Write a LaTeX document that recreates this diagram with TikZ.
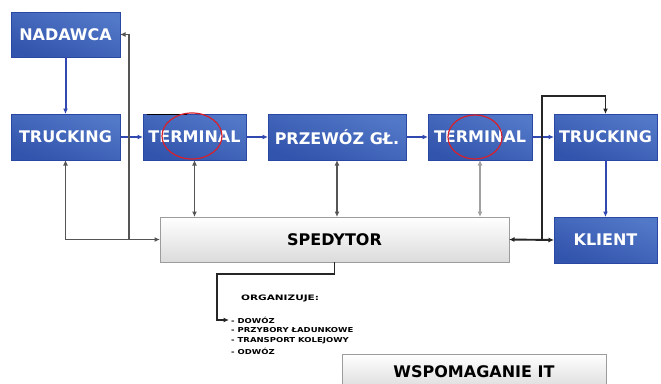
\documentclass[tikz,border=0pt]{standalone}
\usepackage{fontspec}
\setmainfont{DejaVu Sans}
\usetikzlibrary{arrows.meta}
\definecolor{boxblueL}{HTML}{5278C8}
\definecolor{boxblueD}{HTML}{3254AC}
\definecolor{edgeblue}{HTML}{2A47A3}
\definecolor{lineblue}{HTML}{3048B0}
\definecolor{greyline}{HTML}{555555}
\definecolor{ltgreyline}{HTML}{A0A0A0}
\definecolor{boxgrey}{HTML}{9C9C9C}
\definecolor{ellred}{HTML}{D8202C}
\tikzset{
  bluebox/.style={draw=edgeblue, line width=0.9pt, top color=boxblueL, bottom color=boxblueD,
    shading angle=-20, text=white, font=\fontsize{16}{18}\selectfont\bfseries,
    inner sep=0pt, outer sep=0pt},
  greybox/.style={draw=boxgrey, line width=0.9pt, top color=white, bottom color=black!14,
    text=black, font=\fontsize{16}{18}\selectfont\bfseries, inner sep=0pt, outer sep=0pt},
  tip/.style={-{Latex[length=5.5pt,width=5pt]}},
  bothtip/.style={{Latex[length=5.5pt,width=5pt]}-{Latex[length=5.5pt,width=5pt]}},
  blueline/.style={draw=lineblue, line width=2pt, tip},
  greycon/.style={draw=greyline, line width=1.9pt},
  ltgreycon/.style={draw=ltgreyline, line width=1.9pt},
  blackcon/.style={draw=black!85, line width=1.9pt},
  listtxt/.style={anchor=west, inner sep=0pt, font=\fontsize{6.8}{8}\selectfont\bfseries},
  ell/.style={draw=ellred, line width=1.2pt}
}
\begin{document}
\begin{tikzpicture}[x=1pt,y=-1pt]
\useasboundingbox (0,0) rectangle (661,383);
\fill[white] (0,0) rectangle (661,383);

% boxes
\node[bluebox, minimum width=109pt, minimum height=45pt] (nad) at (65.5,34.5) {NADAWCA};
\node[bluebox, minimum width=109pt, minimum height=46pt] (tr1) at (65.5,137) {TRUCKING};
\node[bluebox, minimum width=103pt, minimum height=46pt] (te1) at (194.5,137) {TERMINAL};
\node[bluebox, minimum width=138pt, minimum height=46pt] (prz) at (337,137) {PRZEWÓZ GŁ.};
\node[bluebox, minimum width=104pt, minimum height=46pt] (te2) at (480,137) {TERMINAL};
\node[bluebox, minimum width=103pt, minimum height=46pt] (tr2) at (605.5,137) {TRUCKING};
\node[bluebox, minimum width=103pt, minimum height=46pt] (kl) at (605.5,240) {KLIENT};
\node[greybox, minimum width=349pt, minimum height=45pt] (sp) at (334.5,239.5) {SPEDYTOR};
\node[greybox, minimum width=264pt, minimum height=36pt] (wsp) at (474,372) {WSPOMAGANIE IT};

% red ellipses and black mark on first terminal
\draw[black, line width=1.2pt] (147,114.6) -- (187,114.6);
\draw[ell] (192,136) ellipse [x radius=30pt, y radius=23pt];
\draw[ell] (475,137) ellipse [x radius=27pt, y radius=22pt];

% blue flow
\draw[blueline] (nad) -- (tr1);
\draw[blueline] (tr1) -- (te1);
\draw[blueline] (te1) -- (prz);
\draw[blueline] (prz) -- (te2);
\draw[blueline] (te2) -- (tr2);
\draw[blueline] (tr2) -- (kl);

% left grey connectors
\coordinate (j1) at (129,239.5);
\draw[greycon, bothtip] (tr1.south) |- (sp.west);
\draw[greycon, tip] (j1) |- (nad.east);

% vertical links to SPEDYTOR
\draw[greycon, bothtip] (te1.south) -- (te1.south |- sp.north);
\draw[greycon, bothtip] (prz.south) -- (prz.south |- sp.north);
\draw[ltgreycon, bothtip] (te2.south) -- (te2.south |- sp.north);

% right loop
\coordinate (j2) at (542,240);
\coordinate (top2) at (542,96);
\draw[blackcon, bothtip] (sp.east) -- (kl.west);
\draw[blackcon, tip] (j2) -- (top2) -| (tr2.north);

% organizuje
\node[anchor=west, inner sep=0pt, font=\fontsize{7.5}{9}\selectfont\bfseries] (org) at (241,298)
  {\scalebox{1.4}[1]{ORGANIZUJE:}};
\node[listtxt] (l1) at (231,320) {\scalebox{1.25}[1]{- DOWÓZ}};
\node[listtxt] (l2) at (231,330.3) {\scalebox{1.25}[1]{- PRZYBORY ŁADUNKOWE}};
\node[listtxt] (l3) at (231,340.6) {\scalebox{1.25}[1]{- TRANSPORT KOLEJOWY}};
\node[listtxt] (l4) at (231,350.9) {\scalebox{1.25}[1]{- ODWÓZ}};
\coordinate (o1) at (217,274);
\draw[blackcon, tip] (sp.south) |- (o1) |- ([xshift=-2pt]l1.west);
\end{tikzpicture}
\end{document}
